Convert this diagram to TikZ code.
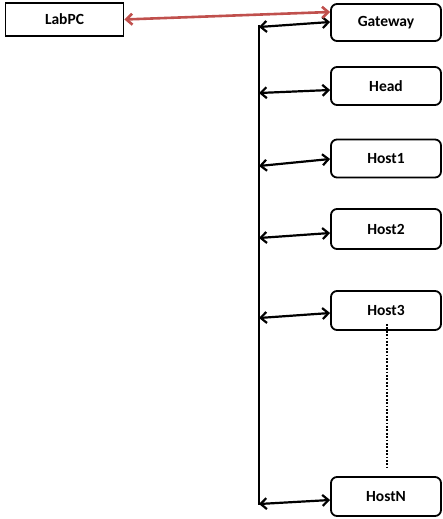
\documentclass[tikz,border=0pt]{standalone}
\usepackage{fontspec}
\setmainfont{Carlito}
\usetikzlibrary{arrows.meta}
\definecolor{linkred}{RGB}{192,80,77}
\begin{document}
\begin{tikzpicture}[x=1pt,y=-1pt,
  hostbox/.style={draw,line width=1.8pt,rounded corners=6pt,minimum width=110pt,
    font=\bfseries\fontsize{15.5}{18}\selectfont,inner sep=0pt},
  pcbox/.style={draw,line width=1.8pt,minimum width=118pt,minimum height=33pt,
    font=\bfseries\fontsize{15.5}{18}\selectfont,inner sep=0pt},
  link/.style={line width=2.2pt,{Straight Barb[length=6pt,width=11pt]}-{Straight Barb[length=6pt,width=11pt]}},
  bus/.style={line width=2.2pt}]
\useasboundingbox (0,0) rectangle (442,519);

% machines
\node[pcbox] (labpc) at (64.5,19.5) {LabPC};
\node[hostbox,minimum height=37pt] (gateway) at (386,22.5) {Gateway};
\node[hostbox,minimum height=38pt] (head) at (386,86) {Head};
\node[hostbox,minimum height=38pt] (host1) at (386,158.5) {Host1};
\node[hostbox,minimum height=40pt] (host2) at (386,229) {Host2};
\node[hostbox,minimum height=39pt] (host3) at (386,310.5) {Host3};
\node[hostbox,minimum height=39pt] (hostn) at (386,496.5) {HostN};

% shared bus
\coordinate (bustop) at (259,25);
\coordinate (busbot) at (259,505);
\draw[bus] (bustop) -- (busbot);
\coordinate (b0) at (259,27);
\coordinate (b1) at (259,93);
\coordinate (b2) at (259,166);
\coordinate (b3) at (259,238);
\coordinate (b4) at (259,318);
\coordinate (b5) at (259,504);

% links from the bus to each machine
\draw[link] (b0) -- ([yshift=0.5pt]gateway.west);
\draw[link] (b1) -- ([yshift=-4pt]head.west);
\draw[link] (b2) -- ([yshift=-0.5pt]host1.west);
\draw[link] (b3) -- ([yshift=-4pt]host2.west);
\draw[link] (b4) -- ([yshift=-2.5pt]host3.west);
\draw[link] (b5) -- ([yshift=-3.5pt]hostn.west);

% outside link
\draw[link,linkred,line width=2.6pt] (labpc.east) -- ([yshift=10.5pt]gateway.west);

% further hosts
\draw[line width=2pt,dash pattern=on 1.8pt off 1.6pt] (host3.south) ++(1pt,7pt) coordinate (dtop) -- (dtop |- 0,468) coordinate (dbot);
\end{tikzpicture}
\end{document}
